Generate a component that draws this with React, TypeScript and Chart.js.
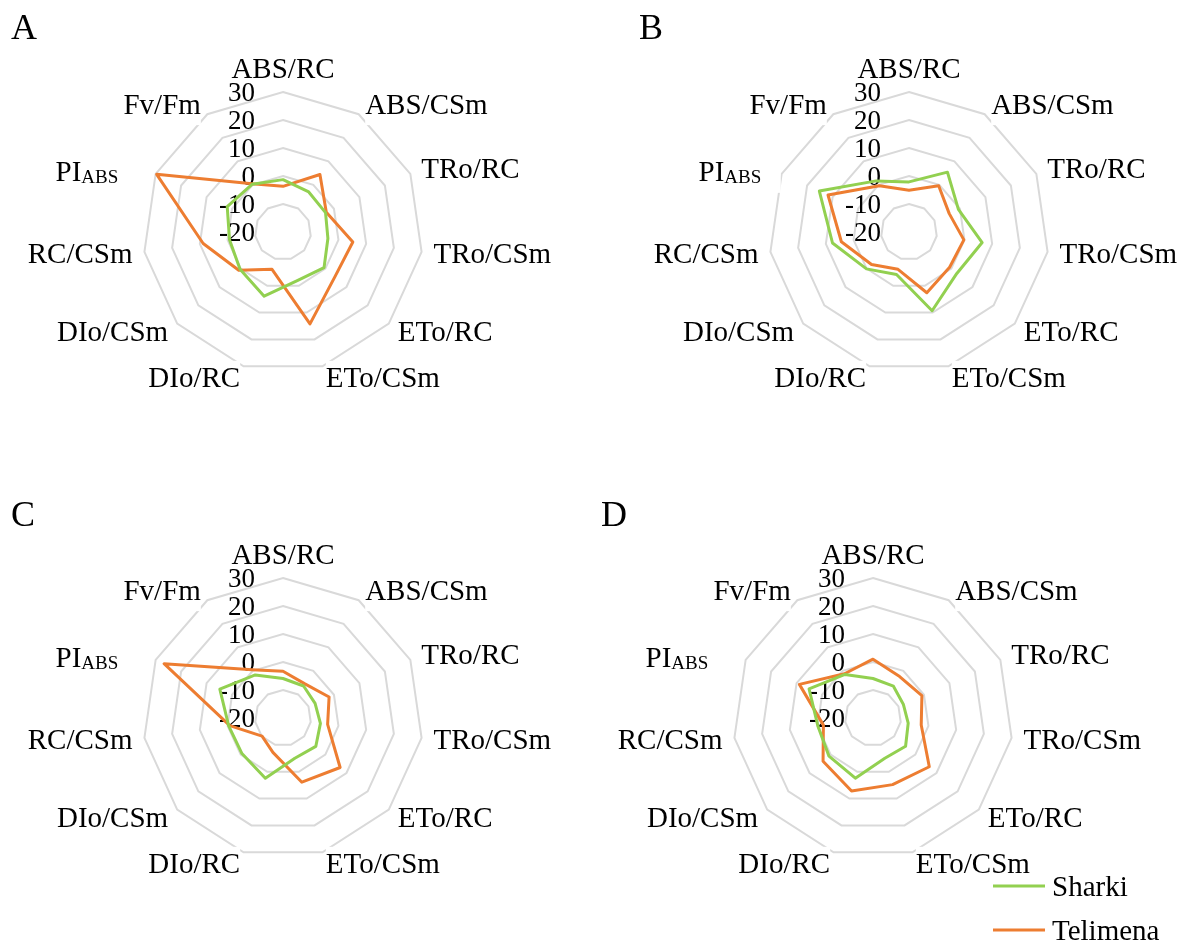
import React, { useEffect, useRef } from 'react';
import { Chart, registerables } from 'chart.js';

Chart.register(...registerables);

// ---------------- data ----------------
const categories = ['ABS/RC', 'ABS/CSm', 'TRo/RC', 'TRo/CSm', 'ETo/RC', 'ETo/CSm', 'DIo/RC', 'DIo/CSm', 'RC/CSm', 'PI_ABS', 'Fv/Fm'];
const tickValues = [-20, -10, 0, 10, 20, 30];
const seriesNames = ['Sharki', 'Telimena'];
const panelLetters = ['A', 'B', 'C', 'D'];

const sharkiA = [-1.3, -3.0, -3.3, -3.8, -0.6, -1.9, 3.9, 0.3, -0.7, 1.9, 0.3];
const telimenaA = [-3.7, 4.4, -3.0, 5.2, 4.5, 14.2, -6.1, 0.9, 8.8, 29.6, 0.5];

const sharkiB = [-2.1, 5.4, -0.6, 6.4, 2.6, 9.3, -4.2, 0.1, 7.6, 15.2, 1.7];
const telimenaB = [-5.1, -0.4, -4.2, -0.2, -0.8, 2.6, -6.1, -2.3, 4.4, 11.8, -0.4];

const sharkiC = [-5.9, -6.4, -7.4, -6.5, -4.5, -5.0, 2.4, -0.6, -0.4, 4.8, -1.7];
const telimenaC = [-3.3, -5.5, -1.9, -3.9, 7.0, 3.9, -7.2, -10.1, -0.8, 26.7, 0.5];

const sharkiD = [-5.9, -6.5, -8.1, -7.3, -4.6, -5.0, 2.4, 0.8, -0.1, 5.1, -1.5];
const telimenaD = [1.0, -2.4, -0.8, -2.6, 6.6, 4.8, 7.2, 3.6, -2.1, 8.9, -1.2];

// ---------------- styles ----------------
const GREEN = '#92D050';
const ORANGE = '#ED7D31';
const GRID = '#d9d9d9';
const FONT = '"Liberation Serif", "Times New Roman", Times, serif';
const LABEL_SIZE = 29;
const TICK_SIZE = 27;
const RADIUS = 140;
const LINE_W = 3;

const radarDecor = {
  id: 'radarDecor',
  beforeDatasetsDraw(chart: any, _args: any, opts: any) {
    const s: any = chart.scales.r;
    const ctx: CanvasRenderingContext2D = chart.ctx;
    const labels = chart.data.labels as string[];
    const n = labels.length;
    ctx.save();

    // point labels (Excel-like placement)
    labels.forEach((lab, i) => {
      const deg = (i * 360) / n;
      const pos = s.getPointPosition(i, s.drawingArea + 12);
      const parts = lab.split('_');
      const main = parts[0];
      const sub = parts[1] || '';
      ctx.font = `${LABEL_SIZE}px ${FONT}`;
      const fullW = ctx.measureText(main + sub).width;
      let x0: number;
      let cyText = pos.y;
      if (deg === 0) {
        x0 = pos.x - fullW / 2;
        cyText = pos.y - 12;
      } else if (deg < 180) {
        x0 = pos.x;
      } else {
        x0 = pos.x - fullW;
      }
      if (sub) {
        x0 += opts.subShift || 0;
        cyText += 3;
      }
      ctx.fillStyle = '#ffffff';
      ctx.fillRect(x0, cyText - 17, fullW, 38);
      ctx.fillStyle = '#000000';
      ctx.textAlign = 'left';
      ctx.textBaseline = 'alphabetic';
      const base = cyText + LABEL_SIZE * 0.33;
      ctx.fillText(main, x0, base);
      if (sub) {
        const w = ctx.measureText(main).width;
        ctx.font = `${Math.round(LABEL_SIZE * 0.66)}px ${FONT}`;
        ctx.fillText(sub, x0 + w, base + 2);
      }
    });

    // tick labels, right aligned left of the vertical axis
    ctx.font = `${TICK_SIZE}px ${FONT}`;
    ctx.fillStyle = '#000000';
    ctx.textAlign = 'right';
    ctx.textBaseline = 'alphabetic';
    s.ticks.forEach((t: any) => {
      const y = s.yCenter - s.getDistanceFromCenterForValue(t.value);
      ctx.fillText(String(t.value), s.xCenter - 28, y + TICK_SIZE * 0.33);
    });

    // panel letter
    ctx.font = `36px ${FONT}`;
    ctx.textAlign = 'left';
    ctx.fillText(opts.letter, opts.letterX, opts.letterY);

    // legend
    if (opts.legend) {
      const items = chart.data.datasets;
      items.forEach((ds: any, k: number) => {
        const y = opts.legend.y + k * 44;
        ctx.strokeStyle = ds.borderColor;
        ctx.lineWidth = LINE_W;
        ctx.beginPath();
        ctx.moveTo(opts.legend.x, y);
        ctx.lineTo(opts.legend.x + 52, y);
        ctx.stroke();
        ctx.fillStyle = '#000000';
        ctx.font = `${LABEL_SIZE}px ${FONT}`;
        ctx.textAlign = 'left';
        ctx.fillText(ds.label, opts.legend.x + 59, y + LABEL_SIZE * 0.33);
      });
    }
    ctx.restore();
  },
};

type PanelProps = {
  left: number;
  top: number;
  width: number;
  height: number;
  cx: number;
  cy: number;
  letter: string;
  letterX: number;
  letterY: number;
  sharki: number[];
  telimena: number[];
  subShift?: number;
  legend?: { x: number; y: number };
};

function RadarPanel(p: PanelProps) {
  const ref = useRef<HTMLCanvasElement>(null);
  useEffect(() => {
    const canvas = ref.current;
    if (!canvas) return;
    const lx = p.cx - p.left;
    const ly = p.cy - p.top;
    const lineStyle = {
      backgroundColor: 'transparent',
      borderWidth: LINE_W,
      pointRadius: 0,
      pointHoverRadius: 0,
      fill: false,
      tension: 0,
      borderJoinStyle: 'round' as const,
    };
    const chart = new Chart(canvas, {
      type: 'radar',
      data: {
        labels: categories,
        datasets: [
          { label: seriesNames[0], data: p.sharki, borderColor: GREEN, ...lineStyle },
          { label: seriesNames[1], data: p.telimena, borderColor: ORANGE, ...lineStyle },
        ],
      },
      options: {
        responsive: false,
        animation: false,
        devicePixelRatio: 1,
        layout: {
          padding: {
            left: lx - RADIUS,
            top: ly - RADIUS,
            right: p.width - (lx + RADIUS),
            bottom: p.height - (ly + RADIUS),
          },
        },
        plugins: {
          legend: { display: false },
          tooltip: { enabled: false },
          radarDecor: {
            letter: p.letter,
            letterX: p.letterX - p.left,
            letterY: p.letterY - p.top,
            subShift: p.subShift || 0,
            legend: p.legend ? { x: p.legend.x - p.left, y: p.legend.y - p.top } : null,
          },
        } as any,
        scales: {
          r: {
            min: tickValues[0],
            max: tickValues[tickValues.length - 1],
            afterBuildTicks: (scale: any) => {
              scale.ticks = tickValues.map((v) => ({ value: v }));
            },
            ticks: { display: false, stepSize: 10 },
            pointLabels: { display: false },
            angleLines: { display: false },
            grid: { color: GRID, lineWidth: 2 },
          },
        } as any,
      },
      plugins: [radarDecor as any],
    });
    return () => chart.destroy();
  }, []);
  return (
    <canvas
      ref={ref}
      width={p.width}
      height={p.height}
      style={{ position: 'absolute', left: p.left, top: p.top, width: p.width, height: p.height }}
    />
  );
}

export default function App() {
  return (
    <div style={{ position: 'absolute', left: 0, top: 0, width: 1179, height: 943, background: '#ffffff', overflow: 'hidden' }}>
      <RadarPanel left={0} top={0} width={590} height={472} cx={283} cy={232} letter={panelLetters[0]} letterX={11} letterY={39} sharki={sharkiA} telimena={telimenaA} subShift={-7} />
      <RadarPanel left={590} top={0} width={589} height={472} cx={909} cy={232} letter={panelLetters[1]} letterX={639} letterY={39} sharki={sharkiB} telimena={telimenaB} subShift={10} />
      <RadarPanel left={0} top={472} width={590} height={471} cx={283} cy={718} letter={panelLetters[2]} letterX={11} letterY={526} sharki={sharkiC} telimena={telimenaC} subShift={-7} />
      <RadarPanel left={590} top={472} width={589} height={471} cx={873} cy={718} letter={panelLetters[3]} letterX={601} letterY={526} sharki={sharkiD} telimena={telimenaD} subShift={-7} legend={{ x: 993, y: 886 }} />
    </div>
  );
}
